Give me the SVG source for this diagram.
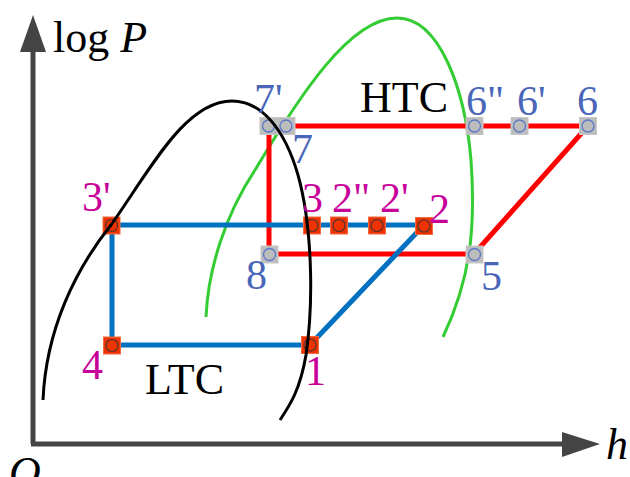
<svg xmlns="http://www.w3.org/2000/svg" width="630" height="477" viewBox="0 0 630 477">
<defs>
<style>
.ax{stroke:#444;stroke-width:5;fill:none}
.ahd{fill:#444}
.red{stroke:#ff0000;stroke-width:5;fill:none}
.blu{stroke:#0070c0;stroke-width:5;fill:none}
.dome{fill:none;stroke-width:3}
.on{fill:#ee3300;stroke:#f36a40;stroke-width:1}
.oc{fill:none;stroke:#553333;stroke-width:1.2}
.gn{fill:#bcbcbc;stroke:#c8c8c8;stroke-width:1}
.gc{fill:none;stroke:#5b78c8;stroke-width:1.3}
text{font-family:"Liberation Serif","Times New Roman",serif}
.mg{fill:#c8009a;font-size:42px}
.bl{fill:#4a66b8;font-size:42px}
.bk{fill:#000;font-size:44px}
</style>
</defs>
<g id="axes">
<line class="ax" x1="33" y1="50" x2="33" y2="444"/>
<line class="ax" x1="31" y1="444" x2="564" y2="444"/>
<polygon class="ahd" points="33,15 20,52 46,52"/>
<polygon class="ahd" points="600,444 562,432 562,457"/>
<text class="bk" x="53" y="52">log <tspan font-style="italic">P</tspan></text>
<text class="bk" x="606" y="459" font-style="italic">h</text>
<text class="bk" x="9" y="487" font-style="italic">O</text>
</g>
<path id="htc-dome" class="dome" stroke="#33cc33" d="M206,317 C208,270 225,215 255,170 C300,95 350,18 397,18 C440,18 465,90 471,160 C476,230 470,280 443,337"/>
<g id="connectors">
<path class="red" d="M286,126 H588 L474,254 H269 V126"/>
<path class="blu" d="M111,225 H424 L310,345 H112 V225"/>
</g>
<g id="n7p"><rect class="gn" x="260" y="117.5" width="17.5" height="17"/><circle class="gc" cx="268.5" cy="126" r="6"/></g>
<g id="n7"><rect class="gn" x="277.5" y="117.5" width="17.5" height="17"/><circle class="gc" cx="286" cy="126" r="6"/></g>
<g id="n6pp"><rect class="gn" x="466" y="117.5" width="17" height="17"/><circle class="gc" cx="474.5" cy="126" r="6"/></g>
<g id="n6p"><rect class="gn" x="511" y="117.5" width="17" height="17"/><circle class="gc" cx="519.5" cy="126" r="6"/></g>
<g id="n6"><rect class="gn" x="579.5" y="117.5" width="17" height="17"/><circle class="gc" cx="588" cy="126" r="6"/></g>
<g id="n8"><rect class="gn" x="261" y="246" width="17" height="17"/><circle class="gc" cx="269.5" cy="254.5" r="6"/></g>
<g id="n5"><rect class="gn" x="466" y="246" width="17" height="17"/><circle class="gc" cx="474.5" cy="254.5" r="6"/></g>
<g id="n3p"><rect class="on" x="103" y="217" width="17" height="17"/><circle class="oc" cx="111.5" cy="225.5" r="6"/></g>
<g id="n3"><rect class="on" x="303.5" y="217" width="17" height="17"/><circle class="oc" cx="312" cy="225.5" r="6"/></g>
<g id="n2pp"><rect class="on" x="330.5" y="217" width="17" height="17"/><circle class="oc" cx="339" cy="225.5" r="6"/></g>
<g id="n2p"><rect class="on" x="368.5" y="217" width="17" height="17"/><circle class="oc" cx="377" cy="225.5" r="6"/></g>
<g id="n2"><rect class="on" x="415.5" y="217.5" width="17" height="17"/><circle class="oc" cx="424" cy="226" r="6"/></g>
<g id="n4"><rect class="on" x="103.5" y="337" width="17" height="17"/><circle class="oc" cx="112" cy="345.5" r="6"/></g>
<g id="n1"><rect class="on" x="301.5" y="336.5" width="17" height="17"/><circle class="oc" cx="310" cy="345" r="6"/></g>
<path id="ltc-dome" class="dome" stroke="#000" d="M43,400 C46,330 75,270 111,225 C150,170 185,101 232,101 C262,101 285,130 298,175 C312,225 314,300 306,355 C300,390 290,405 280,420"/>
<g id="labels">
<text class="mg" x="82" y="211">3'</text>
<text class="mg" x="302" y="212">3</text>
<text class="mg" x="332" y="212">2"</text>
<text class="mg" x="380" y="212">2'</text>
<text class="mg" x="429" y="223">2</text>
<text class="mg" x="82" y="379">4</text>
<text class="mg" x="305" y="385">1</text>
<text class="bl" x="254" y="113">7'</text>
<text class="bl" x="292" y="163">7</text>
<text class="bl" x="466" y="115">6"</text>
<text class="bl" x="517" y="115">6'</text>
<text class="bl" x="577" y="115">6</text>
<text class="bl" x="246" y="289">8</text>
<text class="bl" x="481" y="290">5</text>
<text class="bk" x="360" y="112">HTC</text>
<text class="bk" x="145" y="394">LTC</text>
</g>
</svg>
